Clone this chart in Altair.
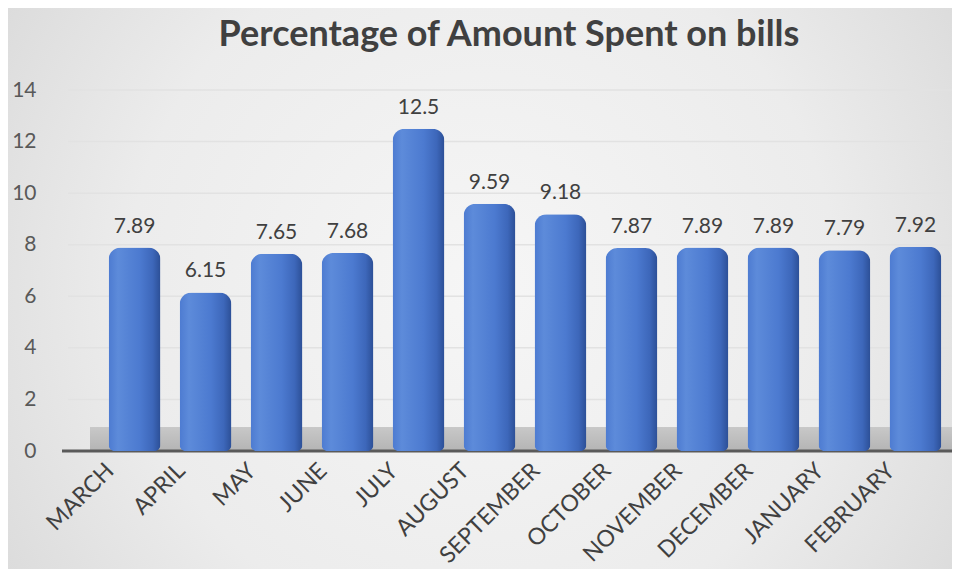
import altair as alt
import pandas as pd

months = ["MARCH", "APRIL", "MAY", "JUNE", "JULY", "AUGUST", "SEPTEMBER",
          "OCTOBER", "NOVEMBER", "DECEMBER", "JANUARY", "FEBRUARY"]
values = [7.89, 6.15, 7.65, 7.68, 12.5, 9.59, 9.18, 7.87, 7.89, 7.89, 7.79, 7.92]
labels = ["7.89", "6.15", "7.65", "7.68", "12.5", "9.59", "9.18", "7.87",
          "7.89", "7.89", "7.79", "7.92"]
y_ticks = [0, 2, 4, 6, 8, 10, 12, 14]
title_text = ["Percentage of Amount Spent on bills"]

W, H = 854, 361
PL, PT, PB = 90, 82, 118
FONT = "Lato"

df = pd.DataFrame({"month": months, "value": values, "label": labels})
grid_df = pd.DataFrame({"t": y_ticks[1:]})
title_df = pd.DataFrame({"t": title_text})

x_enc = alt.X("month:N", sort=months, title=None,
              scale=alt.Scale(paddingInner=0.27, paddingOuter=0.15),
              axis=alt.Axis(labelAngle=-45, labelFontSize=23, labelColor="#404040",
                            labelFont=FONT, domain=False, ticks=False, grid=False,
                            labelPadding=8, labelOffset=-32, zindex=2))
y_enc = alt.Y("value:Q", title=None, scale=alt.Scale(domain=[0, 14]),
              axis=alt.Axis(values=y_ticks, labelFontSize=21, labelColor="#595959",
                            labelFont=FONT, domain=False, ticks=False, grid=False,
                            labelPadding=62, zindex=2))

bg = alt.Chart(title_df).mark_rect(
    fill=alt.RadialGradient(
        gradient="radial", x1=0.5, y1=0.5, r1=0.0, x2=0.5, y2=0.5, r2=0.75,
        stops=[alt.GradientStop(offset=0, color="#f6f6f6"),
               alt.GradientStop(offset=0.5, color="#ececec"),
               alt.GradientStop(offset=1, color="#cfcfcf")]),
).encode(x=alt.value(-PL), x2=alt.value(W + 4), y=alt.value(-PT), y2=alt.value(H + PB))

grid = alt.Chart(grid_df).mark_rule(color="#e2e2e2", strokeWidth=1.5).encode(
    y=alt.Y("t:Q"), x=alt.value(-30), x2=alt.value(W))

floor = alt.Chart(title_df).mark_rect(
    fill=alt.LinearGradient(
        gradient="linear", x1=0, y1=0, x2=0, y2=1,
        stops=[alt.GradientStop(offset=0, color="#c8c8c8"),
               alt.GradientStop(offset=1, color="#b4b4b4")]),
).encode(x=alt.value(-8), x2=alt.value(W + 4), y=alt.value(H - 24), y2=alt.value(H))

axis_line = alt.Chart(title_df).mark_rule(color="#5a5a5a", strokeWidth=3).encode(
    x=alt.value(-36), x2=alt.value(W + 4), y=alt.value(H))

bars = alt.Chart(df).mark_bar(
    cornerRadiusTopLeft=12, cornerRadiusTopRight=12,
    cornerRadiusBottomLeft=6, cornerRadiusBottomRight=6,
    fill=alt.LinearGradient(
        gradient="linear", x1=0, y1=0, x2=1, y2=0,
        stops=[alt.GradientStop(offset=0, color="#4d7bd1"),
               alt.GradientStop(offset=0.18, color="#5d8bda"),
               alt.GradientStop(offset=0.6, color="#4c7ad0"),
               alt.GradientStop(offset=0.85, color="#3d67ba"),
               alt.GradientStop(offset=1, color="#2c4f96")]),
).encode(x=x_enc, y=y_enc)

text = alt.Chart(df).mark_text(
    dy=-15, baseline="alphabetic", fontSize=21, color="#404040", font=FONT
).encode(x=alt.X("month:N", sort=months), y=alt.Y("value:Q"), text="label:N")

title = alt.Chart(title_df).mark_text(
    font=FONT, fontSize=36, fontWeight="bold", color="#404040",
    align="center", baseline="alphabetic"
).encode(x=alt.value(W / 2 - 16), y=alt.value(-PT + 38), text="t:N")

chart = alt.layer(bg, grid, floor, axis_line, bars, text, title).properties(
    width=W, height=H,
    autosize=alt.AutoSizeParams(type="none"),
    padding={"left": PL, "top": PT, "right": 0, "bottom": PB},
).configure_view(stroke=None).configure(background="#e4e4e4")

chart.save("out.html", embed_options={"renderer": "svg", "actions": False})
